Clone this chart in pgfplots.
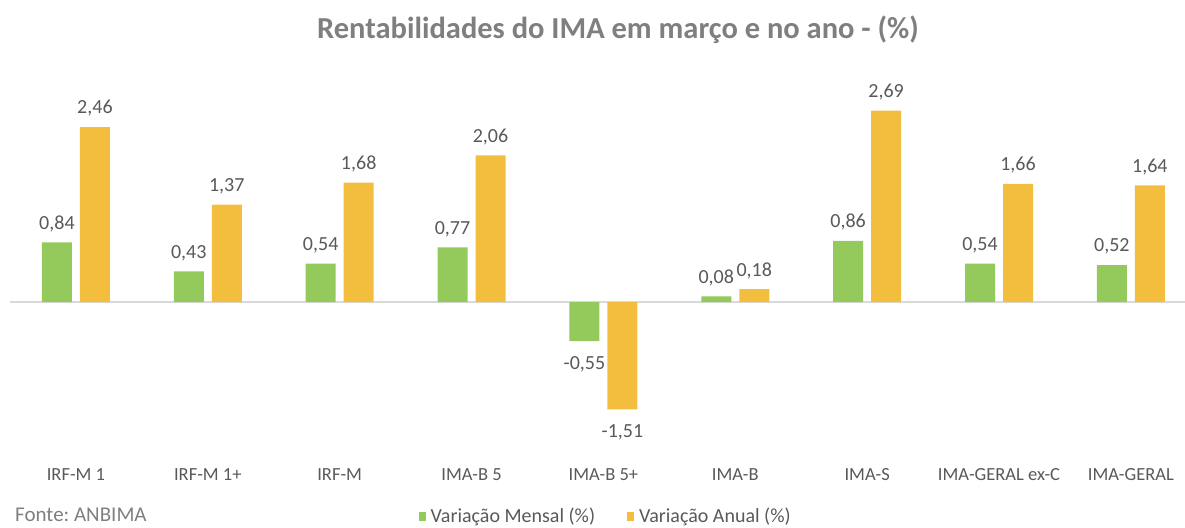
\documentclass[border=0pt]{standalone}
\usepackage{pgfplots}
\pgfplotsset{compat=1.18}
\usepackage{fontspec}
\setmainfont{Carlito}
\frenchspacing
\definecolor{cgreen}{HTML}{94C95B}
\definecolor{cyellow}{HTML}{F3BE3D}
\definecolor{ctitle}{HTML}{7F7F7F}
\definecolor{ctext}{HTML}{595959}
\definecolor{cline}{HTML}{D9D9D9}
\begin{document}
\begin{tikzpicture}[x=1pt,y=1pt]
\path[use as bounding box] (0,0) rectangle (1185,527);
\node[font=\fontsize{30.5}{34}\selectfont\bfseries, text=ctitle] at (618,497) {Rentabilidades do IMA em março e no ano - (\%)};
\node[font=\fontsize{21}{24}\selectfont, text=ctitle, anchor=west, inner sep=0pt] at (15,12) {Fonte: ANBIMA};
\begin{axis}[
  at={(10pt,72pt)}, anchor=south west,
  scale only axis, width=1175pt, height=355pt,
  xmin=-0.5, xmax=8.41, ymin=-2.15, ymax=2.84,
  ybar=8pt, bar width=30pt,
  axis line style={draw=none},
  ytick=\empty,
  xtick=data,
  xticklabels={IRF-M 1, IRF-M 1+, IRF-M, IMA-B 5, IMA-B 5+, IMA-B, IMA-S, IMA-GERAL ex-C, IMA-GERAL},
  major tick length=0pt,
  xticklabel style={font=\fontsize{18.5}{21}\selectfont, text=ctext, yshift=-10pt},
  visualization depends on={y \as \yval},
  nodes near coords,
  nodes near coords style={font=\fontsize{20}{23}\selectfont, text=ctext, yshift={ifthenelse(\yval<0,-12,7)}, /pgf/number format/.cd, use comma, fixed, fixed zerofill, precision=2, assume math mode=true},
  /pgf/number format/assume math mode=true,
  legend columns=2,
  legend style={at={(0.507,-0.172)}, anchor=center, draw=none, fill=none, font=\fontsize{20}{23}\selectfont, text=ctext, /tikz/every even column/.append style={column sep=30pt}, /tikz/every odd column/.append style={column sep=3pt}},
  legend image code/.code={\fill[#1] (0pt,-4.5pt) rectangle (7pt,4.5pt);},
  clip=false,
]
\draw[cline, line width=1.5pt] (axis cs:-0.5,0) -- (axis cs:8.41,0);
\addplot[fill=cgreen, draw=none] coordinates {(0,0.84) (1,0.43) (2,0.54) (3,0.77) (4,-0.55) (5,0.08) (6,0.86) (7,0.54) (8,0.52)};
\addplot[fill=cyellow, draw=none] coordinates {(0,2.46) (1,1.37) (2,1.68) (3,2.06) (4,-1.51) (5,0.18) (6,2.69) (7,1.66) (8,1.64)};
\legend{Variação Mensal (\%), Variação Anual (\%)}
\end{axis}
\end{tikzpicture}
\end{document}
